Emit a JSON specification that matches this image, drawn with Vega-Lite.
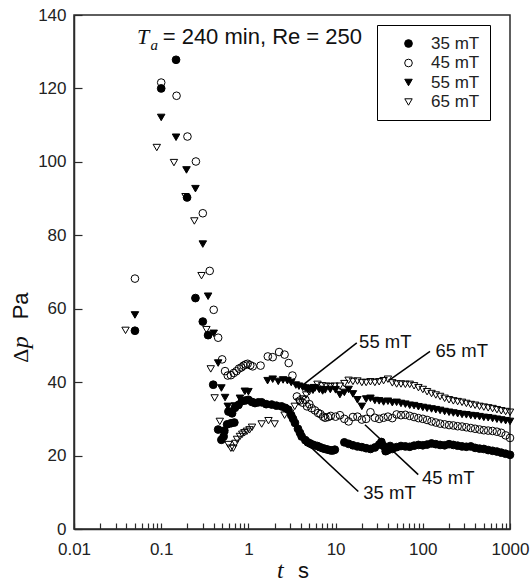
{
  "$schema": "https://vega.github.io/schema/vega-lite/v6.json",
  "width": 436,
  "height": 514,
  "autosize": {"type": "none"},
  "padding": {"left": 74, "top": 15, "right": 22, "bottom": 53},
  "background": "white",
  "config": {
    "view": {"stroke": "#2a2a2a", "strokeWidth": 1.5},
    "font": "Liberation Sans",
    "axis": {"grid": false, "domainColor": "#2a2a2a", "domainWidth": 1.5, "tickColor": "#2a2a2a", "tickWidth": 1.2, "labelColor": "#222", "labelFont": "Liberation Sans", "labelFontSize": 17, "title": null}
  },
  "datasets": {
    "pts": [
      {"t":0.05,"dp":54.0,"B":"35 mT"},{"t":0.1,"dp":120.0,"B":"35 mT"},{"t":0.148,"dp":127.8,"B":"35 mT"},{"t":0.198,"dp":90.3,"B":"35 mT"},{"t":0.247,"dp":62.9,"B":"35 mT"},{"t":0.30,"dp":56.5,"B":"35 mT"},{"t":0.345,"dp":52.8,"B":"35 mT"},{"t":0.395,"dp":39.3,"B":"35 mT"},{"t":0.45,"dp":27.1,"B":"35 mT"},{"t":0.49,"dp":24.3,"B":"35 mT"},{"t":0.52,"dp":25.2,"B":"35 mT"},{"t":0.53,"dp":26.8,"B":"35 mT"},{"t":0.57,"dp":28.5,"B":"35 mT"},{"t":0.63,"dp":28.8,"B":"35 mT"},{"t":0.69,"dp":29.0,"B":"35 mT"},
      {"t":0.59,"dp":32.0,"B":"35 mT"},{"t":0.65,"dp":31.5,"B":"35 mT"},{"t":0.70,"dp":33.0,"B":"35 mT"},{"t":0.77,"dp":33.8,"B":"35 mT"},{"t":0.84,"dp":34.8,"B":"35 mT"},{"t":0.92,"dp":35.0,"B":"35 mT"},{"t":1.0,"dp":35.2,"B":"35 mT"},{"t":1.1,"dp":34.6,"B":"35 mT"},{"t":1.19,"dp":34.3,"B":"35 mT"},{"t":1.3,"dp":34.5,"B":"35 mT"},{"t":1.42,"dp":34.5,"B":"35 mT"},{"t":1.6,"dp":34.0,"B":"35 mT"},{"t":1.85,"dp":33.9,"B":"35 mT"},{"t":2.1,"dp":33.6,"B":"35 mT"},{"t":2.4,"dp":33.4,"B":"35 mT"},{"t":2.65,"dp":33.0,"B":"35 mT"},{"t":2.87,"dp":32.5,"B":"35 mT"},{"t":3.1,"dp":31.0,"B":"35 mT"},{"t":3.25,"dp":30.0,"B":"35 mT"},{"t":3.42,"dp":28.9,"B":"35 mT"},{"t":3.7,"dp":27.3,"B":"35 mT"},{"t":3.9,"dp":26.2,"B":"35 mT"},{"t":4.08,"dp":25.2,"B":"35 mT"},{"t":4.5,"dp":24.2,"B":"35 mT"},{"t":4.8,"dp":23.6,"B":"35 mT"},{"t":5.1,"dp":23.3,"B":"35 mT"},{"t":5.4,"dp":23.0,"B":"35 mT"},{"t":5.7,"dp":22.8,"B":"35 mT"},{"t":6.2,"dp":22.6,"B":"35 mT"},{"t":6.6,"dp":22.3,"B":"35 mT"},{"t":7.1,"dp":22.0,"B":"35 mT"},{"t":7.6,"dp":21.8,"B":"35 mT"},{"t":8.2,"dp":21.6,"B":"35 mT"},{"t":8.8,"dp":21.4,"B":"35 mT"},{"t":9.3,"dp":21.4,"B":"35 mT"},{"t":9.8,"dp":21.6,"B":"35 mT"},
      {"t":12.6,"dp":23.6,"B":"35 mT"},{"t":14.1,"dp":23.2,"B":"35 mT"},{"t":15.8,"dp":22.8,"B":"35 mT"},{"t":17.8,"dp":22.5,"B":"35 mT"},{"t":20,"dp":22.3,"B":"35 mT"},{"t":22.4,"dp":22.0,"B":"35 mT"},{"t":25.1,"dp":21.8,"B":"35 mT"},{"t":28.2,"dp":22.2,"B":"35 mT"},{"t":31.6,"dp":23.0,"B":"35 mT"},{"t":33.5,"dp":23.7,"B":"35 mT"},{"t":35.5,"dp":22.6,"B":"35 mT"},{"t":37.5,"dp":21.2,"B":"35 mT"},{"t":39.8,"dp":21.5,"B":"35 mT"},{"t":42.2,"dp":22.6,"B":"35 mT"},{"t":44.7,"dp":21.8,"B":"35 mT"},{"t":50.1,"dp":22.3,"B":"35 mT"},{"t":56.2,"dp":22.6,"B":"35 mT"},{"t":63.1,"dp":22.5,"B":"35 mT"},{"t":70.8,"dp":22.4,"B":"35 mT"},{"t":79.4,"dp":22.7,"B":"35 mT"},{"t":89.1,"dp":22.9,"B":"35 mT"},{"t":100,"dp":22.8,"B":"35 mT"},{"t":112,"dp":23.0,"B":"35 mT"},{"t":126,"dp":23.3,"B":"35 mT"},{"t":141,"dp":23.1,"B":"35 mT"},{"t":158,"dp":22.9,"B":"35 mT"},{"t":178,"dp":22.8,"B":"35 mT"},{"t":200,"dp":23.1,"B":"35 mT"},{"t":224,"dp":22.9,"B":"35 mT"},{"t":251,"dp":22.7,"B":"35 mT"},{"t":282,"dp":22.5,"B":"35 mT"},{"t":316,"dp":22.4,"B":"35 mT"},{"t":355,"dp":22.5,"B":"35 mT"},{"t":398,"dp":22.1,"B":"35 mT"},{"t":447,"dp":21.9,"B":"35 mT"},{"t":501,"dp":21.8,"B":"35 mT"},{"t":562,"dp":21.5,"B":"35 mT"},{"t":631,"dp":21.3,"B":"35 mT"},{"t":708,"dp":21.1,"B":"35 mT"},{"t":794,"dp":20.8,"B":"35 mT"},{"t":891,"dp":20.5,"B":"35 mT"},{"t":1000,"dp":20.2,"B":"35 mT"},

      {"t":0.05,"dp":58.3,"B":"55 mT"},{"t":0.1,"dp":112.1,"B":"55 mT"},{"t":0.148,"dp":106.7,"B":"55 mT"},{"t":0.195,"dp":97.8,"B":"55 mT"},{"t":0.247,"dp":92.7,"B":"55 mT"},{"t":0.30,"dp":77.6,"B":"55 mT"},{"t":0.345,"dp":63.4,"B":"55 mT"},{"t":0.40,"dp":53.3,"B":"55 mT"},{"t":0.45,"dp":45.2,"B":"55 mT"},{"t":0.49,"dp":38.4,"B":"55 mT"},{"t":0.54,"dp":35.8,"B":"55 mT"},{"t":0.58,"dp":33.4,"B":"55 mT"},{"t":0.63,"dp":32.0,"B":"55 mT"},{"t":0.7,"dp":33.5,"B":"55 mT"},{"t":0.8,"dp":35.6,"B":"55 mT"},{"t":0.91,"dp":37.5,"B":"55 mT"},{"t":1.0,"dp":37.4,"B":"55 mT"},
      {"t":1.66,"dp":40.4,"B":"55 mT"},{"t":1.9,"dp":40.8,"B":"55 mT"},{"t":2.2,"dp":40.2,"B":"55 mT"},{"t":2.5,"dp":40.6,"B":"55 mT"},{"t":2.8,"dp":40.4,"B":"55 mT"},{"t":3.1,"dp":39.9,"B":"55 mT"},{"t":3.5,"dp":39.2,"B":"55 mT"},{"t":3.8,"dp":38.9,"B":"55 mT"},{"t":4.2,"dp":38.6,"B":"55 mT"},{"t":4.5,"dp":38.4,"B":"55 mT"},{"t":4.8,"dp":38.0,"B":"55 mT"},{"t":5.1,"dp":38.2,"B":"55 mT"},{"t":5.5,"dp":37.8,"B":"55 mT"},{"t":5.8,"dp":38.4,"B":"55 mT"},{"t":6.5,"dp":38.0,"B":"55 mT"},{"t":7.1,"dp":37.6,"B":"55 mT"},{"t":7.6,"dp":37.9,"B":"55 mT"},{"t":8.7,"dp":38.0,"B":"55 mT"},{"t":10,"dp":37.9,"B":"55 mT"},{"t":11.2,"dp":36.6,"B":"55 mT"},{"t":12.6,"dp":37.2,"B":"55 mT"},{"t":14.1,"dp":38.0,"B":"55 mT"},{"t":15.8,"dp":36.8,"B":"55 mT"},{"t":17.8,"dp":35.2,"B":"55 mT"},{"t":20,"dp":33.4,"B":"55 mT"},{"t":22.4,"dp":35.4,"B":"55 mT"},{"t":25.1,"dp":35.6,"B":"55 mT"},{"t":28.2,"dp":35.0,"B":"55 mT"},{"t":31.6,"dp":34.9,"B":"55 mT"},{"t":35.5,"dp":34.6,"B":"55 mT"},{"t":39.8,"dp":34.8,"B":"55 mT"},{"t":44.7,"dp":34.4,"B":"55 mT"},{"t":50.1,"dp":34.5,"B":"55 mT"},{"t":56.2,"dp":34.2,"B":"55 mT"},{"t":63.1,"dp":34.0,"B":"55 mT"},{"t":70.8,"dp":33.7,"B":"55 mT"},{"t":79.4,"dp":33.6,"B":"55 mT"},{"t":89.1,"dp":33.3,"B":"55 mT"},{"t":100,"dp":33.1,"B":"55 mT"},{"t":112,"dp":32.9,"B":"55 mT"},{"t":126,"dp":32.7,"B":"55 mT"},{"t":141,"dp":32.5,"B":"55 mT"},{"t":158,"dp":32.3,"B":"55 mT"},{"t":178,"dp":32.0,"B":"55 mT"},{"t":200,"dp":31.8,"B":"55 mT"},{"t":224,"dp":31.6,"B":"55 mT"},{"t":251,"dp":31.4,"B":"55 mT"},{"t":282,"dp":31.2,"B":"55 mT"},{"t":316,"dp":31.1,"B":"55 mT"},{"t":355,"dp":30.9,"B":"55 mT"},{"t":398,"dp":30.8,"B":"55 mT"},{"t":447,"dp":30.6,"B":"55 mT"},{"t":501,"dp":30.4,"B":"55 mT"},{"t":562,"dp":30.3,"B":"55 mT"},{"t":631,"dp":30.1,"B":"55 mT"},{"t":708,"dp":29.9,"B":"55 mT"},{"t":794,"dp":29.7,"B":"55 mT"},{"t":891,"dp":29.5,"B":"55 mT"},{"t":1000,"dp":29.3,"B":"55 mT"},

      {"t":0.05,"dp":68.2,"B":"45 mT"},{"t":0.1,"dp":121.6,"B":"45 mT"},{"t":0.15,"dp":118.0,"B":"45 mT"},{"t":0.2,"dp":106.9,"B":"45 mT"},{"t":0.25,"dp":100.1,"B":"45 mT"},{"t":0.30,"dp":86.0,"B":"45 mT"},{"t":0.36,"dp":70.3,"B":"45 mT"},{"t":0.40,"dp":59.7,"B":"45 mT"},{"t":0.45,"dp":52.1,"B":"45 mT"},{"t":0.50,"dp":46.2,"B":"45 mT"},{"t":0.54,"dp":43.0,"B":"45 mT"},{"t":0.58,"dp":41.8,"B":"45 mT"},{"t":0.63,"dp":41.9,"B":"45 mT"},{"t":0.68,"dp":42.5,"B":"45 mT"},{"t":0.73,"dp":43.0,"B":"45 mT"},{"t":0.78,"dp":43.7,"B":"45 mT"},{"t":0.83,"dp":44.0,"B":"45 mT"},{"t":0.88,"dp":44.5,"B":"45 mT"},{"t":0.93,"dp":44.8,"B":"45 mT"},{"t":0.98,"dp":45.0,"B":"45 mT"},{"t":1.05,"dp":44.6,"B":"45 mT"},{"t":1.12,"dp":44.3,"B":"45 mT"},{"t":1.38,"dp":44.5,"B":"45 mT"},{"t":1.67,"dp":47.0,"B":"45 mT"},{"t":1.9,"dp":46.8,"B":"45 mT"},{"t":2.25,"dp":48.2,"B":"45 mT"},{"t":2.6,"dp":47.5,"B":"45 mT"},{"t":2.9,"dp":45.2,"B":"45 mT"},{"t":3.2,"dp":41.8,"B":"45 mT"},{"t":3.6,"dp":36.1,"B":"45 mT"},{"t":3.9,"dp":35.0,"B":"45 mT"},{"t":4.2,"dp":34.4,"B":"45 mT"},{"t":4.5,"dp":35.2,"B":"45 mT"},{"t":4.7,"dp":33.4,"B":"45 mT"},{"t":5.0,"dp":34.0,"B":"45 mT"},{"t":5.3,"dp":32.9,"B":"45 mT"},{"t":5.8,"dp":32.3,"B":"45 mT"},{"t":6.3,"dp":31.6,"B":"45 mT"},{"t":6.7,"dp":31.3,"B":"45 mT"},{"t":7.2,"dp":30.6,"B":"45 mT"},{"t":7.6,"dp":30.3,"B":"45 mT"},{"t":8.2,"dp":30.5,"B":"45 mT"},{"t":8.8,"dp":30.8,"B":"45 mT"},{"t":10,"dp":30.6,"B":"45 mT"},{"t":11.2,"dp":31.0,"B":"45 mT"},{"t":12.6,"dp":30.0,"B":"45 mT"},{"t":14.1,"dp":29.3,"B":"45 mT"},{"t":15.8,"dp":30.5,"B":"45 mT"},{"t":17.8,"dp":30.6,"B":"45 mT"},{"t":20,"dp":29.8,"B":"45 mT"},{"t":22.4,"dp":30.0,"B":"45 mT"},{"t":25.1,"dp":31.8,"B":"45 mT"},{"t":28.2,"dp":30.3,"B":"45 mT"},{"t":31.6,"dp":30.0,"B":"45 mT"},{"t":35.5,"dp":30.3,"B":"45 mT"},{"t":39.8,"dp":30.6,"B":"45 mT"},{"t":44.7,"dp":30.2,"B":"45 mT"},{"t":50.1,"dp":31.2,"B":"45 mT"},{"t":56.2,"dp":31.0,"B":"45 mT"},{"t":63.1,"dp":31.1,"B":"45 mT"},{"t":70.8,"dp":30.8,"B":"45 mT"},{"t":79.4,"dp":30.5,"B":"45 mT"},{"t":89.1,"dp":30.2,"B":"45 mT"},{"t":100,"dp":30.0,"B":"45 mT"},{"t":112,"dp":29.7,"B":"45 mT"},{"t":126,"dp":29.3,"B":"45 mT"},{"t":141,"dp":29.0,"B":"45 mT"},{"t":158,"dp":28.7,"B":"45 mT"},{"t":178,"dp":28.5,"B":"45 mT"},{"t":200,"dp":28.3,"B":"45 mT"},{"t":224,"dp":28.2,"B":"45 mT"},{"t":251,"dp":28.0,"B":"45 mT"},{"t":282,"dp":27.9,"B":"45 mT"},{"t":316,"dp":27.7,"B":"45 mT"},{"t":355,"dp":27.5,"B":"45 mT"},{"t":398,"dp":27.3,"B":"45 mT"},{"t":447,"dp":27.1,"B":"45 mT"},{"t":501,"dp":26.9,"B":"45 mT"},{"t":562,"dp":26.8,"B":"45 mT"},{"t":631,"dp":26.7,"B":"45 mT"},{"t":708,"dp":26.5,"B":"45 mT"},{"t":794,"dp":26.2,"B":"45 mT"},{"t":891,"dp":25.5,"B":"45 mT"},{"t":1000,"dp":24.8,"B":"45 mT"},

      {"t":0.039,"dp":54.1,"B":"65 mT"},{"t":0.089,"dp":103.9,"B":"65 mT"},{"t":0.14,"dp":99.8,"B":"65 mT"},{"t":0.19,"dp":90.5,"B":"65 mT"},{"t":0.24,"dp":83.9,"B":"65 mT"},{"t":0.29,"dp":69.0,"B":"65 mT"},{"t":0.33,"dp":54.3,"B":"65 mT"},{"t":0.37,"dp":43.6,"B":"65 mT"},{"t":0.41,"dp":35.7,"B":"65 mT"},{"t":0.47,"dp":29.3,"B":"65 mT"},{"t":0.53,"dp":25.5,"B":"65 mT"},{"t":0.59,"dp":23.0,"B":"65 mT"},{"t":0.63,"dp":22.0,"B":"65 mT"},{"t":0.67,"dp":22.0,"B":"65 mT"},{"t":0.71,"dp":23.3,"B":"65 mT"},{"t":0.74,"dp":24.4,"B":"65 mT"},{"t":0.8,"dp":25.2,"B":"65 mT"},{"t":0.85,"dp":25.8,"B":"65 mT"},{"t":0.9,"dp":26.2,"B":"65 mT"},{"t":0.96,"dp":26.6,"B":"65 mT"},{"t":1.03,"dp":27.0,"B":"65 mT"},{"t":1.1,"dp":27.7,"B":"65 mT"},{"t":1.42,"dp":28.6,"B":"65 mT"},{"t":1.7,"dp":29.5,"B":"65 mT"},{"t":2.0,"dp":28.6,"B":"65 mT"},{"t":2.6,"dp":31.0,"B":"65 mT"},{"t":3.0,"dp":31.5,"B":"65 mT"},{"t":3.4,"dp":33.4,"B":"65 mT"},{"t":3.8,"dp":34.6,"B":"65 mT"},{"t":4.2,"dp":35.4,"B":"65 mT"},{"t":4.6,"dp":36.5,"B":"65 mT"},{"t":5.0,"dp":37.4,"B":"65 mT"},{"t":5.6,"dp":38.5,"B":"65 mT"},{"t":6.2,"dp":39.4,"B":"65 mT"},{"t":7.0,"dp":39.0,"B":"65 mT"},{"t":7.8,"dp":38.9,"B":"65 mT"},{"t":8.7,"dp":38.8,"B":"65 mT"},{"t":9.7,"dp":38.9,"B":"65 mT"},{"t":11.2,"dp":38.9,"B":"65 mT"},{"t":12.6,"dp":39.6,"B":"65 mT"},{"t":14.1,"dp":40.5,"B":"65 mT"},{"t":15.8,"dp":40.2,"B":"65 mT"},{"t":17.8,"dp":40.3,"B":"65 mT"},{"t":20,"dp":39.9,"B":"65 mT"},{"t":22.4,"dp":39.9,"B":"65 mT"},{"t":25.1,"dp":40.1,"B":"65 mT"},{"t":28.2,"dp":39.9,"B":"65 mT"},{"t":31.6,"dp":40.1,"B":"65 mT"},{"t":35.5,"dp":40.4,"B":"65 mT"},{"t":39.8,"dp":40.8,"B":"65 mT"},{"t":44.7,"dp":39.8,"B":"65 mT"},{"t":50.1,"dp":39.5,"B":"65 mT"},{"t":56.2,"dp":39.5,"B":"65 mT"},{"t":63.1,"dp":39.4,"B":"65 mT"},{"t":70.8,"dp":39.4,"B":"65 mT"},{"t":79.4,"dp":39.0,"B":"65 mT"},{"t":89.1,"dp":38.5,"B":"65 mT"},{"t":100,"dp":38.0,"B":"65 mT"},{"t":112,"dp":37.4,"B":"65 mT"},{"t":126,"dp":36.9,"B":"65 mT"},{"t":141,"dp":36.5,"B":"65 mT"},{"t":158,"dp":36.1,"B":"65 mT"},{"t":178,"dp":35.6,"B":"65 mT"},{"t":200,"dp":35.2,"B":"65 mT"},{"t":224,"dp":34.9,"B":"65 mT"},{"t":251,"dp":34.7,"B":"65 mT"},{"t":282,"dp":34.5,"B":"65 mT"},{"t":316,"dp":34.2,"B":"65 mT"},{"t":355,"dp":33.9,"B":"65 mT"},{"t":398,"dp":33.7,"B":"65 mT"},{"t":447,"dp":33.4,"B":"65 mT"},{"t":501,"dp":33.2,"B":"65 mT"},{"t":562,"dp":33.0,"B":"65 mT"},{"t":631,"dp":32.8,"B":"65 mT"},{"t":708,"dp":32.5,"B":"65 mT"},{"t":794,"dp":32.2,"B":"65 mT"},{"t":891,"dp":32.0,"B":"65 mT"},{"t":1000,"dp":31.8,"B":"65 mT"}
    ],
    "leaders": [
      {"t":17.5,"dp":50.7,"t2":4.27,"dp2":39.3},
      {"t":121,"dp":48.4,"t2":42.1,"dp2":40.7},
      {"t":88.7,"dp":14.8,"t2":21.7,"dp2":28.4},
      {"t":18.2,"dp":10.2,"t2":5.08,"dp2":22.5}
    ],
    "notes": [
      {"t":18.6,"dp":51.0,"text":"55 mT"},
      {"t":140,"dp":48.4,"text":"65 mT"},
      {"t":98,"dp":14.0,"text":"45 mT"},
      {"t":20.8,"dp":9.8,"text":"35 mT"}
    ]
  },
  "layer": [
    {
      "data": {"name": "pts"},
      "mark": {"type": "point", "filled": true, "stroke": "black", "strokeWidth": 1, "opacity": 1},
      "encoding": {
        "x": {"field": "t", "type": "quantitative", "scale": {"type": "log", "domain": [0.01, 1000], "nice": false},
          "axis": {"values": [0.01,0.02,0.03,0.04,0.05,0.06,0.07,0.08,0.09,0.1,0.2,0.3,0.4,0.5,0.6,0.7,0.8,0.9,1,2,3,4,5,6,7,8,9,10,20,30,40,50,60,70,80,90,100,200,300,400,500,600,700,800,900,1000],
            "labelExpr": "indexof([0.01,0.1,1,10,100,1000], datum.value) >= 0 ? format(datum.value, '~g') : ''",
            "tickSize": -6, "labelPadding": 18, "labelFlush": false, "labelOverlap": false}},
        "y": {"field": "dp", "type": "quantitative", "scale": {"domain": [0, 140], "nice": false},
          "axis": {"values": [0,20,40,60,80,100,120,140], "tickSize": -8, "labelPadding": 16, "labelFlush": false}},
        "shape": {"field": "B", "type": "nominal", "scale": {"domain": ["35 mT","45 mT","55 mT","65 mT"], "range": ["circle","circle","triangle-down","triangle-down"]},
          "legend": {"title": null, "orient": "none", "legendX": 303, "legendY": 10, "padding": 10, "strokeColor": "black", "fillColor": "white", "symbolOffset": 13, "labelOffset": 14, "labelFontSize": 17, "labelFont": "Liberation Sans", "labelColor": "#222", "rowPadding": 1.5, "symbolStrokeColor": "black", "symbolStrokeWidth": 1}},
        "fill": {"field": "B", "type": "nominal", "scale": {"domain": ["35 mT","45 mT","55 mT","65 mT"], "range": ["black","transparent","black","transparent"]}, "legend": {"title": null}},
        "size": {"field": "B", "type": "nominal", "scale": {"domain": ["35 mT","45 mT","55 mT","65 mT"], "range": [60,55,80,80]}, "legend": {"title": null}}
      }
    },
    {
      "data": {"name": "leaders"},
      "mark": {"type": "rule", "color": "black", "strokeWidth": 1.5},
      "encoding": {
        "x": {"field": "t", "type": "quantitative"},
        "y": {"field": "dp", "type": "quantitative"},
        "x2": {"field": "t2"},
        "y2": {"field": "dp2"}
      }
    },
    {
      "data": {"name": "notes"},
      "mark": {"type": "text", "align": "left", "baseline": "middle", "font": "Liberation Sans", "fontSize": 18.5, "color": "#111"},
      "encoding": {
        "x": {"field": "t", "type": "quantitative"},
        "y": {"field": "dp", "type": "quantitative"},
        "text": {"field": "text"}
      }
    },
    {
      "data": {"values": [{"t": 0.0527, "dp": 132, "text": "T"}]},
      "mark": {"type": "text", "align": "left", "baseline": "alphabetic", "font": "Liberation Serif", "fontStyle": "italic", "fontSize": 22, "color": "#111"},
      "encoding": {"x": {"field": "t", "type": "quantitative"}, "y": {"field": "dp", "type": "quantitative"}, "text": {"field": "text"}}
    },
    {
      "data": {"values": [{"t": 0.0755, "dp": 130.6, "text": "a"}]},
      "mark": {"type": "text", "align": "left", "baseline": "alphabetic", "font": "Liberation Serif", "fontStyle": "italic", "fontSize": 15, "color": "#111"},
      "encoding": {"x": {"field": "t", "type": "quantitative"}, "y": {"field": "dp", "type": "quantitative"}, "text": {"field": "text"}}
    },
    {
      "data": {"values": [{"t": 0.104, "dp": 132, "text": "= 240 min, Re = 250"}]},
      "mark": {"type": "text", "align": "left", "baseline": "alphabetic", "font": "Liberation Sans", "fontSize": 22, "color": "#111"},
      "encoding": {"x": {"field": "t", "type": "quantitative"}, "y": {"field": "dp", "type": "quantitative"}, "text": {"field": "text"}}
    },
    {
      "data": {"values": [{"t": 2.13, "dp": -13.3, "text": "t"}]},
      "mark": {"type": "text", "align": "left", "baseline": "alphabetic", "font": "Liberation Serif", "fontStyle": "italic", "fontSize": 24, "color": "#111"},
      "encoding": {"x": {"field": "t", "type": "quantitative"}, "y": {"field": "dp", "type": "quantitative"}, "text": {"field": "text"}}
    },
    {
      "data": {"values": [{"t": 3.71, "dp": -13.3, "text": "s"}]},
      "mark": {"type": "text", "align": "left", "baseline": "alphabetic", "font": "Liberation Sans", "fontSize": 22, "color": "#111"},
      "encoding": {"x": {"field": "t", "type": "quantitative"}, "y": {"field": "dp", "type": "quantitative"}, "text": {"field": "text"}}
    },
    {
      "data": {"values": [{"t": 0.003, "dp": 45.3, "text": "Δ"}]},
      "mark": {"type": "text", "align": "left", "baseline": "alphabetic", "angle": 270, "font": "Liberation Serif", "fontSize": 22, "color": "#111"},
      "encoding": {"x": {"field": "t", "type": "quantitative"}, "y": {"field": "dp", "type": "quantitative"}, "text": {"field": "text"}}
    },
    {
      "data": {"values": [{"t": 0.003, "dp": 49.2, "text": "p"}]},
      "mark": {"type": "text", "align": "left", "baseline": "alphabetic", "angle": 270, "font": "Liberation Serif", "fontStyle": "italic", "fontSize": 24, "color": "#111"},
      "encoding": {"x": {"field": "t", "type": "quantitative"}, "y": {"field": "dp", "type": "quantitative"}, "text": {"field": "text"}}
    },
    {
      "data": {"values": [{"t": 0.003, "dp": 57.1, "text": "Pa"}]},
      "mark": {"type": "text", "align": "left", "baseline": "alphabetic", "angle": 270, "font": "Liberation Sans", "fontSize": 22, "color": "#111"},
      "encoding": {"x": {"field": "t", "type": "quantitative"}, "y": {"field": "dp", "type": "quantitative"}, "text": {"field": "text"}}
    }
  ]
}
